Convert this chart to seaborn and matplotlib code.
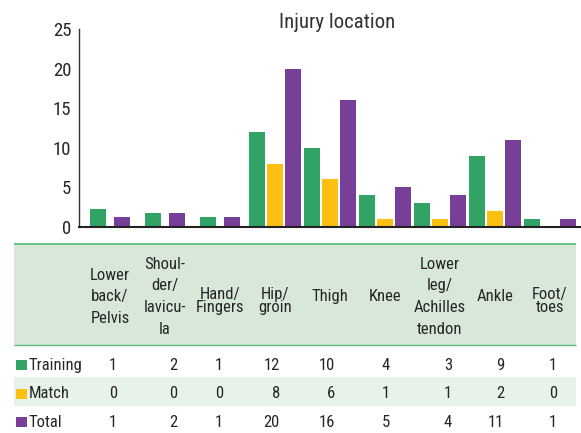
import numpy as np
import pandas as pd
import matplotlib
matplotlib.use("Agg")
import matplotlib.pyplot as plt
import seaborn as sns
from matplotlib.patches import Rectangle
from matplotlib import font_manager

# ---------------- data ----------------
categories = ["Lower back/Pelvis", "Shoulder/lavicula", "Hand/Fingers", "Hip/groin",
              "Thigh", "Knee", "Lower leg/Achilles tendon", "Ankle", "Foot/toes"]
header_labels = ["Lower\nback/\nPelvis", "Shoul-\nder/\nlavicu-\nla", "Hand/\nFingers",
                 "Hip/\ngroin", "Thigh", "Knee", "Lower\nleg/\nAchilles\ntendon",
                 "Ankle", "Foot/\ntoes"]
series = ["Training", "Match", "Total"]
# bar heights as drawn in the chart
training_bar = [2.3, 1.8, 1.2, 12, 10, 4, 3, 9, 1]
match_bar = [0, 0, 0, 8, 6, 1, 1, 2, 0]
total_bar = [1.2, 1.8, 1.2, 20, 16, 5, 4, 11, 1]
# values printed in the table
training_tab = [1, 2, 1, 12, 10, 4, 3, 9, 1]
match_tab = [0, 0, 0, 8, 6, 1, 1, 2, 0]
total_tab = [1, 2, 1, 20, 16, 5, 4, 11, 1]
y_ticks = [0, 5, 10, 15, 20, 25]
title = "Injury location"
colors = {"Training": "#31a465", "Match": "#fcc012", "Total": "#773f98"}

# ---------------- style / font ----------------
sns.set_style("white")
ttf = font_manager.fontManager.ttflist
names = {f.name for f in ttf}
fam, stretch, condensed = None, "normal", False
for c in ["Liberation Sans Narrow", "Roboto Condensed", "Open Sans Condensed",
          "Noto Sans Condensed", "DejaVu Sans Condensed", "Arial Narrow"]:
    if c in names:
        fam, condensed = c, True
        break
if fam is None:
    cond = [f for f in ttf
            if (f.stretch in ("condensed", "semi-condensed", "extra-condensed")
                or (isinstance(f.stretch, (int, float)) and f.stretch < 500))
            and f.style == "normal"]
    pref = ["DejaVu Sans", "Roboto", "Noto Sans", "Open Sans", "Liberation Sans"]
    cond.sort(key=lambda f: pref.index(f.name) if f.name in pref else 99)
    if cond:
        fam, stretch, condensed = cond[0].name, cond[0].stretch, True
if fam is None:
    fam = "Roboto" if "Roboto" in names else "DejaVu Sans"
plt.rcParams["font.family"] = [fam, "DejaVu Sans"]
plt.rcParams["font.stretch"] = stretch
FS = 12 if condensed else 11
TXT = "#262626"

# ---------------- layout (pixels) ----------------
W, H = 581, 433
PITCH = 55.0          # px per category
G0 = 110.0            # px centre of first category
def u(px):            # pixel x -> category units
    return (px - G0) / PITCH

bar_w = 16 / PITCH
slot = 18 / PITCH
compact = 12 / PITCH
two_bar_groups = [0, 1, 2]

vals = {"Training": training_bar, "Match": match_bar, "Total": total_bar}
rows = []
for i in range(len(categories)):
    if i in two_bar_groups:
        offs = {"Training": -compact, "Total": compact}
    else:
        offs = {"Training": -slot, "Match": 0.0, "Total": slot}
    for s, off in offs.items():
        rows.append({"pos": i + off, "value": vals[s][i], "series": s})
df = pd.DataFrame(rows)
native_w = np.nanmin(np.diff(np.unique(df["pos"].values)))

fig = plt.figure(figsize=(W / 100, H / 100), dpi=100)

# table axes (full figure, x in category units, y in pixels from top)
tax = fig.add_axes([0, 0, 1, 1], zorder=0)
tax.set_xlim(u(0), u(W))
tax.set_ylim(H, 0)
tax.axis("off")

ax = fig.add_axes([79 / W, (H - 227) / H, (W - 79) / W, 198 / H], zorder=1)
ax.patch.set_alpha(0)
sns.barplot(data=df, x="pos", y="value", hue="series", hue_order=series,
            palette=colors, native_scale=True, dodge=False, errorbar=None,
            width=bar_w / native_w, saturation=1, linewidth=0, legend=False, ax=ax)
ax.set_xlim(u(79), u(W))
ax.set_ylim(0, 25)
ax.set_yticks(y_ticks)
ax.set_xticks([])
ax.set_xlabel("")
ax.set_ylabel("")
for s in ["top", "right"]:
    ax.spines[s].set_visible(False)
ax.spines["left"].set_color("#333333")
ax.spines["left"].set_linewidth(1.0)
ax.spines["bottom"].set_color("#222222")
ax.spines["bottom"].set_linewidth(1.5)
ax.tick_params(axis="y", direction="in", length=8, width=0.9, color="#666666",
               pad=5.5, labelsize=FS + 1.5, labelcolor=TXT)

fig.text(337 / W, 1 - 27.5 / H, title, ha="center", va="baseline",
         fontsize=FS + 3, color="#333333")

# ---------------- table ----------------
x_l, x_r = u(14), u(576)
tax.add_patch(Rectangle((x_l, 244), x_r - x_l, 101, facecolor="#d7e8d9", edgecolor="none"))
tax.plot([x_l, x_r], [244, 244], color="#5cbf80", lw=1.3, solid_capstyle="butt")
tax.plot([x_l, x_r], [345, 345], color="#5cbf80", lw=1.0, solid_capstyle="butt")
tax.add_patch(Rectangle((x_l, 377), x_r - x_l, 29, facecolor="#e7f2e8", edgecolor="none"))

for i, lab in enumerate(header_labels):
    n = lab.count("\n") + 1
    if n >= 3:
        ls, cen = 1.55, 295.0
    elif n == 2:
        ls, cen = 0.87, 299.5
    else:
        ls, cen = 1.0, 295.0
    tax.text(i, cen + 1.7, lab, ha="center", va="center", multialignment="center",
             linespacing=ls, fontsize=FS, color=TXT)

value_dx = [7, 12, 3, 5, 5, 5, 12, 9, 7]   # right edge of numbers relative to column centre (px)
row_base = [370, 398.5, 427]
tab_vals = {"Training": training_tab, "Match": match_tab, "Total": total_tab}
for r, s in enumerate(series):
    yb = row_base[r]
    tax.add_patch(Rectangle((u(16), yb - 10), u(27) - u(16), 10,
                            facecolor=colors[s], edgecolor="none"))
    tax.text(u(28.3), yb, s, ha="left", va="baseline", fontsize=FS, color=TXT)
    for i, v in enumerate(tab_vals[s]):
        tax.text(i + value_dx[i] / PITCH, yb, str(v), ha="right", va="baseline",
                 fontsize=FS, color=TXT)

fig.savefig("out.png", dpi=100)
